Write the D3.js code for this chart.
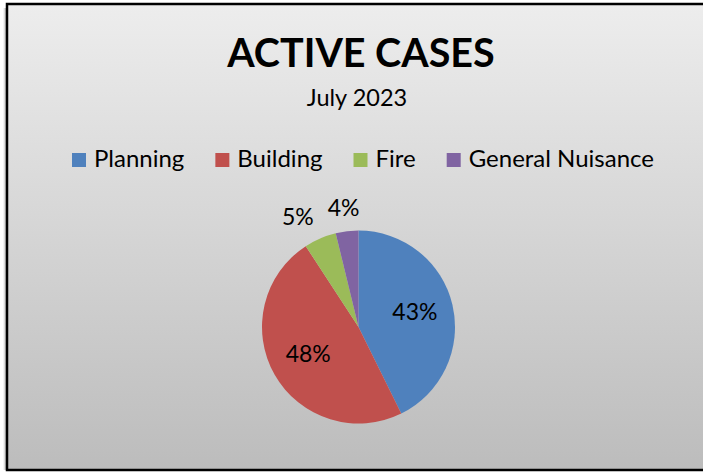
<!DOCTYPE html>
<html>
<head>
<meta charset="utf-8">
<script src="https://cdn.jsdelivr.net/npm/d3@7"></script>
<style>
  body { margin: 0; background: #fff; }
  svg { display: block; font-family: Lato, 'Open Sans', sans-serif; }
</style>
</head>
<body>
<script>
const width = 703
const height = 472

const categories = ['Planning', 'Building', 'Fire', 'General Nuisance']
const values = [42.7, 48.1, 5.4, 3.8]
const colors = ['#4f81bd', '#c0504d', '#9bbb59', '#8064a2']
const title = 'ACTIVE CASES'
const subtitle = 'July 2023'

const data = categories.map((c, i) => ({ label: c, value: values[i] }))
const total = d3.sum(values)

const svg = d3.select('body')
  .append('svg')
  .attr('width', width)
  .attr('height', height)

const defs = svg.append('defs')
const grad = defs.append('linearGradient')
  .attr('id', 'bg')
  .attr('x1', 0).attr('y1', 0).attr('x2', 0).attr('y2', 1)
grad.append('stop').attr('offset', '0%').attr('stop-color', '#ededed')
grad.append('stop').attr('offset', '100%').attr('stop-color', '#bcbcbc')

const shadow = defs.append('linearGradient')
  .attr('id', 'sh')
  .attr('x1', 0).attr('y1', 0).attr('x2', 1).attr('y2', 0)
shadow.append('stop').attr('offset', '0%').attr('stop-color', '#fff')
shadow.append('stop').attr('offset', '100%').attr('stop-color', '#a0a0a0')

// frame
svg.append('rect')
  .attr('x', 3).attr('y', 8)
  .attr('width', 4).attr('height', 462)
  .attr('fill', 'url(#sh)')
svg.append('rect')
  .attr('x', 7).attr('y', 4)
  .attr('width', 720).attr('height', 466)
  .attr('fill', 'url(#bg)')
  .attr('stroke', '#000')
  .attr('stroke-width', 2.5)

// titles
svg.append('text')
  .attr('x', 361).attr('y', 67)
  .attr('text-anchor', 'middle')
  .style('font-size', '39.5px')
  .style('font-weight', 'bold')
  .text(title)

svg.append('text')
  .attr('x', 357).attr('y', 106)
  .attr('text-anchor', 'middle')
  .style('font-size', '23.5px')
  .text(subtitle)

// legend
const legend = svg.append('g').attr('class', 'legend')
let lx = 72
data.forEach((d, i) => {
  const g = legend.append('g').attr('transform', `translate(${lx}, 153)`)
  g.append('rect')
    .attr('width', 14).attr('height', 14)
    .attr('fill', colors[i])
  const t = g.append('text')
    .attr('x', 22).attr('y', 14)
    .style('font-size', '24px')
    .text(d.label)
  lx += 22 + t.node().getComputedTextLength() + 31
})

// pie
const radius = 96.5
const pieG = svg.append('g')
  .attr('transform', `translate(358.5, 327)`)

const pie = d3.pie()
  .sort(null)
  .value((d) => d.value)

const arc = d3.arc()
  .innerRadius(0)
  .outerRadius(radius)

const labelArc = d3.arc()
  .innerRadius(radius * 0.6)
  .outerRadius(radius * 0.6)

const arcs = pie(data)

pieG.selectAll('path')
  .data(arcs)
  .enter()
  .append('path')
  .attr('d', arc)
  .attr('fill', (d, i) => colors[i])

function midAngle (d) {
  return d.startAngle + (d.endAngle - d.startAngle) / 2
}

const fmt = (d) => Math.round(d.value / total * 100) + '%'

const labels = pieG.selectAll('text.pct')
  .data(arcs)
  .enter()
  .append('text')
  .attr('class', 'pct')
  .style('font-size', '23px')
  .attr('text-anchor', 'middle')
  .attr('dy', '0.35em')
  .text(fmt)

// work out label centres; small slices go outside the rim
const pos = []
labels.each(function (d) {
  const w = this.getComputedTextLength()
  if (d.value / total > 0.1) {
    const c = labelArc.centroid(d)
    pos.push({ x: c[0], y: c[1] - 2, w: w, out: false })
    return
  }
  const a = midAngle(d)
  const dx = Math.sin(a)
  const dy = -Math.cos(a)
  const r = radius + 13
  pos.push({ x: dx * r + dx * w / 2, y: dy * r + dy * 10, w: w, out: true })
})

// push outside labels apart (walk backwards, later slices sit further right near the top)
for (let i = pos.length - 2; i >= 0; i--) {
  const a = pos[i]
  const b = pos[i + 1]
  if (!a.out || !b.out) continue
  const gap = (b.x - b.w / 2) - (a.x + a.w / 2)
  if (gap < 14) a.x -= 14 - gap
}

labels.attr('transform', (d, i) => `translate(${pos[i].x}, ${pos[i].y})`)
</script>
</body>
</html>
